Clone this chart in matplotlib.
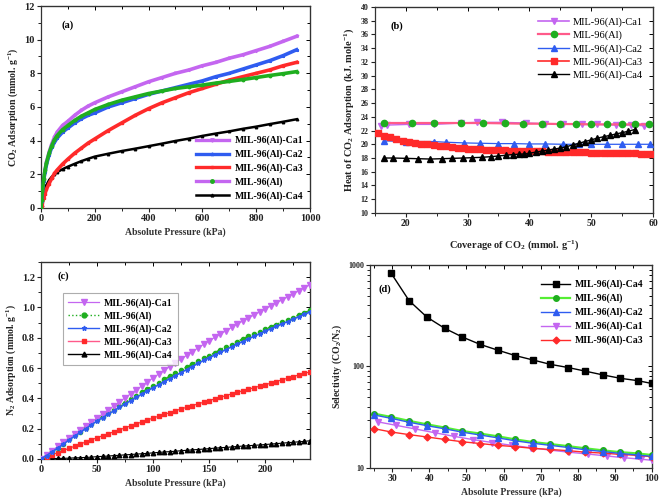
import numpy as np
import matplotlib
matplotlib.use("Agg")
import matplotlib.pyplot as plt
from matplotlib.lines import Line2D
from matplotlib.ticker import MultipleLocator, LogLocator, NullFormatter

plt.rcParams['font.family'] = ['Liberation Serif', 'DejaVu Serif']
plt.rcParams['font.weight'] = 'bold'
plt.rcParams['mathtext.default'] = 'regular'

# ---------------- Panel (a): CO2 adsorption ----------------
p_a = [0, 2, 5, 10, 15, 20, 30, 40, 50, 60, 80, 100, 125, 150, 175, 200, 250, 300,
       350, 400, 450, 500, 550, 600, 650, 700, 750, 800, 850, 900, 950]
a_ca1 = [0, 0.45, 1.0, 1.7, 2.25, 2.7, 3.3, 3.8, 4.2, 4.5, 4.9, 5.15, 5.5, 5.8, 6.05, 6.25,
         6.6, 6.9, 7.2, 7.5, 7.75, 8.0, 8.2, 8.45, 8.65, 8.9, 9.1, 9.35, 9.6, 9.9, 10.2]
a_ca2 = [0, 0.4, 0.95, 1.6, 2.15, 2.55, 3.15, 3.6, 3.9, 4.15, 4.5, 4.75, 5.05, 5.3, 5.5, 5.65,
         6.0, 6.25, 6.5, 6.75, 6.95, 7.15, 7.35, 7.55, 7.8, 8.0, 8.25, 8.5, 8.75, 9.05, 9.4]
a_ca3 = [0, 0.1, 0.3, 0.6, 0.85, 1.1, 1.45, 1.75, 2.05, 2.25, 2.6, 2.9, 3.25, 3.55, 3.85, 4.1,
         4.6, 5.05, 5.5, 5.9, 6.25, 6.55, 6.85, 7.1, 7.35, 7.6, 7.8, 8.0, 8.2, 8.45, 8.65]
a_mil = [0, 0.45, 1.0, 1.7, 2.25, 2.65, 3.25, 3.7, 4.05, 4.3, 4.65, 4.9, 5.2, 5.45, 5.65, 5.85,
         6.15, 6.4, 6.6, 6.8, 6.95, 7.1, 7.2, 7.3, 7.42, 7.52, 7.63, 7.75, 7.87, 7.98, 8.1]
a_ca4 = [0, 0.2, 0.5, 0.85, 1.1, 1.35, 1.65, 1.85, 2.0, 2.12, 2.3, 2.45, 2.62, 2.78, 2.92, 3.05,
         3.22, 3.38, 3.52, 3.67, 3.82, 3.98, 4.12, 4.28, 4.42, 4.55, 4.7, 4.83, 4.98, 5.12, 5.27]

# ---------------- Panel (b): heat of adsorption ----------------
b_ca1_x = [16, 17, 20.5, 24.5, 29, 31.5, 35.5, 39.5, 42.5, 45.5, 48.5, 51, 54, 56.5, 58.5]
b_ca1_y = [22.7, 22.8, 22.9, 22.9, 23.1, 23.2, 23.2, 23.1, 23.0, 23.0, 22.9, 22.9, 22.8, 22.8, 22.7]
b_mil_x = [16.5, 21, 24.5, 29, 32.5, 36, 39, 42, 45, 47.5, 50, 52.5, 55, 57, 59.3]
b_mil_y = [23.1, 23.1, 23.1, 23.1, 23.1, 23.05, 23.0, 23.0, 22.95, 22.95, 22.9, 22.9, 22.9, 22.9, 22.9]
b_ca2_x = [16.5, 20, 24.5, 26.5, 29.5, 32, 35, 37.5, 40, 42.5, 45.5, 48, 50, 52.5, 55, 57.5, 59.5]
b_ca2_y = [20.5, 20.4, 20.4, 20.3, 20.2, 20.15, 20.1, 20.1, 20.05, 20.05, 20.0, 20.0, 20.0, 20.0, 20.0, 20.0, 20.0]
b_ca3_x = [15.5, 16.5, 17.5, 18.5, 19.5, 20.5, 21.5, 22.5, 23.5, 24.5, 25.5, 26.5, 27.5, 28.5, 29.5,
           30, 31, 32, 33, 34, 35, 36, 37, 38, 39, 40, 41, 42, 43, 44, 45, 46, 47, 48, 49, 50,
           51, 52, 53, 54, 55, 56, 57, 58, 59, 60]
b_ca3_y = [21.6, 21.25, 21.0, 20.75, 20.55, 20.4, 20.25, 20.1, 20.0, 19.9, 19.8, 19.7, 19.6, 19.5, 19.4,
           19.35, 19.3, 19.25, 19.2, 19.15, 19.12, 19.1, 19.07, 19.05, 19.02, 19.0, 18.98, 18.96, 18.94,
           18.92, 18.9, 18.88, 18.86, 18.84, 18.82, 18.8, 18.78, 18.76, 18.74, 18.72, 18.7, 18.68,
           18.66, 18.64, 18.62, 18.6]
b_ca4_x = [16.5, 18, 20, 22, 24, 25.8, 27.5, 29.3, 30.8, 32.3, 33.8, 35, 36.2, 37.3, 38.3, 39.2,
           40, 41, 42, 43, 44, 45, 46, 47, 48, 49, 50, 51, 52, 53, 54, 55, 56, 57]
b_ca4_y = [18.0, 18.0, 17.95, 17.9, 17.85, 17.9, 17.95, 18.0, 18.05, 18.1, 18.2, 18.3, 18.4, 18.5,
           18.55, 18.6, 18.7, 18.85, 19.0, 19.15, 19.3, 19.45, 19.65, 19.9, 20.15, 20.4, 20.65,
           20.9, 21.1, 21.3, 21.5, 21.7, 21.9, 22.15]

# ---------------- Panel (c): N2 adsorption ----------------
p_c = list(range(0, 241, 5))
c_ca1 = [0, 0.028, 0.055, 0.083, 0.11, 0.138, 0.165, 0.192, 0.218, 0.244, 0.27,
         0.297, 0.324, 0.35, 0.377, 0.403, 0.43, 0.456, 0.482, 0.508, 0.535,
         0.56, 0.585, 0.61, 0.635, 0.66, 0.684, 0.708, 0.732, 0.756, 0.78,
         0.802, 0.824, 0.846, 0.868, 0.89, 0.91, 0.93, 0.95, 0.97, 0.99,
         1.01, 1.03, 1.05, 1.07, 1.09, 1.11, 1.13, 1.15]
c_mil = [0, 0.025, 0.05, 0.075, 0.1, 0.13, 0.155, 0.18, 0.205, 0.23, 0.255,
         0.28, 0.30, 0.325, 0.35, 0.37, 0.395, 0.415, 0.44, 0.46, 0.48,
         0.50, 0.525, 0.545, 0.565, 0.585, 0.605, 0.625, 0.645, 0.665, 0.68,
         0.70, 0.72, 0.74, 0.755, 0.775, 0.79, 0.81, 0.825, 0.84, 0.855,
         0.871, 0.886, 0.902, 0.918, 0.933, 0.949, 0.964, 0.98]
c_ca2 = [0, 0.022, 0.047, 0.072, 0.097, 0.125, 0.15, 0.175, 0.2, 0.225, 0.25,
         0.272, 0.295, 0.318, 0.34, 0.362, 0.385, 0.406, 0.428, 0.45, 0.47,
         0.49, 0.51, 0.53, 0.55, 0.57, 0.59, 0.61, 0.63, 0.65, 0.668,
         0.686, 0.704, 0.722, 0.74, 0.758, 0.775, 0.792, 0.809, 0.826, 0.843,
         0.859, 0.875, 0.891, 0.907, 0.923, 0.939, 0.955, 0.97]
c_ca3 = [0, 0.014, 0.028, 0.042, 0.056, 0.07, 0.084, 0.098, 0.112, 0.126, 0.14,
         0.153, 0.166, 0.179, 0.192, 0.205, 0.218, 0.231, 0.244, 0.257, 0.27,
         0.282, 0.294, 0.306, 0.318, 0.33, 0.341, 0.352, 0.363, 0.374, 0.385,
         0.396, 0.407, 0.418, 0.429, 0.44, 0.45, 0.46, 0.47, 0.48, 0.49,
         0.5, 0.511, 0.522, 0.533, 0.544, 0.554, 0.564, 0.575]
c_ca4 = [0, 0.001, 0.002, 0.003, 0.004, 0.005, 0.007, 0.008, 0.010, 0.012, 0.015,
         0.017, 0.019, 0.022, 0.024, 0.027, 0.029, 0.032, 0.034, 0.037, 0.04,
         0.043, 0.046, 0.048, 0.051, 0.054, 0.057, 0.06, 0.062, 0.065, 0.068,
         0.071, 0.074, 0.076, 0.079, 0.082, 0.085, 0.087, 0.09, 0.092, 0.095,
         0.098, 0.101, 0.104, 0.107, 0.11, 0.113, 0.116, 0.12]

# ---------------- Panel (d): selectivity ----------------
d_x = [25.0, 29.7, 34.5, 39.3, 44.1, 48.9, 53.7, 58.4, 63.2, 67.9, 72.6, 77.4, 82.1, 86.8, 91.5, 96.2, 100]
d_ca4_x = d_x[1:]
d_ca4 = [826, 446, 307, 238, 195, 165, 145, 128, 116, 105, 97.7, 89.9, 82.6, 76.5, 72.5, 68]
d_mil = [34.3, 31.8, 29.1, 26.9, 25.0, 23.1, 21.8, 20.5, 19.1, 18.0, 17.2, 16.4, 15.6, 14.9, 14.3, 13.9, 13.4]
d_ca2 = [33.3, 30.8, 28.2, 26.1, 24.3, 22.5, 21.1, 19.8, 18.5, 17.5, 16.7, 15.9, 15.1, 14.5, 13.9, 13.4, 13.0]
d_ca1_x = [26.0, 31.0, 36.2, 41.5, 46.6, 51.8, 57.0, 62.2, 67.4, 72.5, 77.6, 82.8, 88.0, 92.6, 97.0, 100]
d_ca1 = [28.5, 26.3, 24.2, 22.2, 20.5, 19.0, 17.8, 16.7, 15.8, 15.0, 14.3, 13.7, 13.1, 12.6, 12.2, 11.9]
d_ca3 = [24.4, 22.6, 21.3, 20.2, 19.1, 18.1, 17.4, 16.7, 16.2, 15.6, 15.2, 14.8, 14.3, 14.0, 13.6, 13.3, 12.9]

labels = ['MIL-96(Al)-Ca1', 'MIL-96(Al)-Ca2', 'MIL-96(Al)-Ca3', 'MIL-96(Al)', 'MIL-96(Al)-Ca4']
VIOLET = '#c466f0'
BLUE = '#2f5cf0'
RED = '#ff2a2a'
GREEN = '#1fae1f'
PINK = '#ff5a8a'
TXT = '#222222'

fig = plt.figure(figsize=(6.61, 5.01), dpi=100)
ax_a = fig.add_axes([0.062, 0.585, 0.407, 0.403])
ax_b = fig.add_axes([0.567, 0.575, 0.421, 0.411])
ax_c = fig.add_axes([0.062, 0.084, 0.407, 0.393])
ax_d = fig.add_axes([0.560, 0.066, 0.426, 0.405])


def style(ax, xmaj, xmin, ymaj, ymin, fs=7.5, logy=False):
    ax.xaxis.set_major_locator(MultipleLocator(xmaj))
    ax.xaxis.set_minor_locator(MultipleLocator(xmin))
    if not logy:
        ax.yaxis.set_major_locator(MultipleLocator(ymaj))
        if ymin:
            ax.yaxis.set_minor_locator(MultipleLocator(ymin))
    ax.tick_params(which='major', direction='out', length=3, width=0.8, labelsize=fs, pad=1.5,
                   colors=TXT)
    ax.tick_params(which='minor', direction='out', length=2, width=0.6)
    for s in ax.spines.values():
        s.set_linewidth(0.9)
        s.set_color('#333333')
    sx = ax.secondary_xaxis('top')
    sx.xaxis.set_major_locator(MultipleLocator(xmaj))
    sx.xaxis.set_minor_locator(MultipleLocator(xmin))
    sx.tick_params(which='both', direction='in', labeltop=False, width=0.7)
    sx.tick_params(which='major', length=3)
    sx.tick_params(which='minor', length=2)
    sy = ax.secondary_yaxis('right')
    if not logy:
        sy.yaxis.set_major_locator(MultipleLocator(ymaj))
        if ymin:
            sy.yaxis.set_minor_locator(MultipleLocator(ymin))
    sy.tick_params(which='both', direction='in', labelright=False, width=0.7)
    sy.tick_params(which='major', length=3)
    sy.tick_params(which='minor', length=2)
    sy.yaxis.set_minor_formatter(NullFormatter())


# ---------- (a) ----------
ax = ax_a
ax.plot(p_a, a_ca4, color='black', lw=1.8, marker='^', ms=1.8, zorder=3)
ax.plot(p_a, a_ca3, color=RED, lw=2.6, marker='s', ms=1.8, zorder=3)
ax.plot(p_a, a_ca2, color=BLUE, lw=2.6, marker='*', ms=2.0, zorder=4)
ax.plot(p_a, a_mil, color=GREEN, lw=2.6, marker='o', ms=1.8, zorder=5)
ax.plot(p_a, a_ca1, color=VIOLET, lw=2.6, marker='v', ms=1.8, zorder=2)
ax.set_xlim(0, 1000)
ax.set_ylim(0, 12)
style(ax, 200, 100, 2, 1, fs=7.5)
ax.set_xlabel('Absolute Pressure (kPa)', fontsize=7, fontweight='bold', color='#333333', labelpad=3)
ax.set_ylabel('CO$_2$ Adsorption (mmol. g$^{-1}$)', fontsize=7, fontweight='bold', color=TXT, labelpad=3)
ax.text(0.075, 0.89, '(a)', transform=ax.transAxes, fontsize=7.5, fontweight='bold')
h_a = [Line2D([], [], color=VIOLET, lw=2.4, marker='v', ms=2.5, mfc=VIOLET),
       Line2D([], [], color=BLUE, lw=2.4, marker='*', ms=2.5, mfc=BLUE),
       Line2D([], [], color=RED, lw=2.4, marker='s', ms=2.0, mfc=RED),
       Line2D([], [], color=VIOLET, lw=2.4, marker='o', ms=2.5, mfc=GREEN, mec=GREEN),
       Line2D([], [], color='black', lw=1.8, marker='^', ms=2.0)]
ax.legend(h_a, labels, loc='lower right', frameon=False, fontsize=7, handlelength=3.4,
          labelspacing=0.45, borderaxespad=0.3, handletextpad=0.6,
          bbox_to_anchor=(1.0, 0.0), prop={'weight': 'bold', 'size': 7})

# ---------- (b) ----------
ax = ax_b
ax.plot(b_ca1_x, b_ca1_y, color=VIOLET, lw=1.0, marker='v', ms=4.5, zorder=3)
ax.plot(b_mil_x, b_mil_y, color=PINK, lw=1.6, marker='o', ms=4.5, mfc=GREEN, mec=GREEN, zorder=4)
ax.plot(b_ca2_x, b_ca2_y, color=BLUE, lw=0.9, marker='^', ms=4.5, zorder=3)
ax.plot(b_ca3_x, b_ca3_y, color=RED, lw=1.2, marker='s', ms=4.0, zorder=3)
ax.plot(b_ca4_x, b_ca4_y, color='black', lw=1.0, marker='^', ms=4.5, zorder=5)
ax.set_xlim(15, 60)
ax.set_ylim(10, 40)
style(ax, 10, 5, 2, None, fs=5.8)
ax.tick_params(axis='x', labelsize=7)
ax.set_xlabel('Coverage of CO$_2$ (mmol. g$^{-1}$)', fontsize=7.5, fontweight='bold', color=TXT, labelpad=7)
ax.set_ylabel('Heat of CO$_2$ Adsorption (kJ. mole$^{-1}$)', fontsize=7.5, fontweight='bold', color=TXT, labelpad=3)
ax.text(0.055, 0.895, '(b)', transform=ax.transAxes, fontsize=7.5, fontweight='bold')
h_b = [Line2D([], [], color=VIOLET, lw=1.2, marker='v', ms=4.5),
       Line2D([], [], color=PINK, lw=1.6, marker='o', ms=4.5, mfc=GREEN, mec=GREEN),
       Line2D([], [], color=BLUE, lw=1.0, marker='^', ms=4.5),
       Line2D([], [], color=RED, lw=1.2, marker='s', ms=4.0),
       Line2D([], [], color='black', lw=1.0, marker='^', ms=4.5)]
lb = ['MIL-96(Al)-Ca1', 'MIL-96(Al)', 'MIL-96(Al)-Ca2', 'MIL-96(Al)-Ca3', 'MIL-96(Al)-Ca4']
ax.legend(h_b, lb, loc='upper right', frameon=False, handlelength=3.0,
          labelspacing=0.35, borderaxespad=0.6, handletextpad=0.3,
          prop={'weight': 'normal', 'size': 7.5})

# ---------- (c) ----------
ax = ax_c
ax.plot(p_c, c_ca4, color='black', lw=0.8, marker='^', ms=3.2, zorder=3)
ax.plot(p_c, c_ca3, color=RED, lw=0.8, marker='s', ms=3.2, zorder=3)
ax.plot(p_c, c_mil, color=GREEN, lw=1.4, ls=':', marker='o', ms=3.0, zorder=3)
ax.plot(p_c, c_ca2, color=BLUE, lw=1.2, marker='*', ms=3.2, zorder=4)
ax.plot(p_c, c_ca1, color=VIOLET, lw=0.8, marker='v', ms=3.8, zorder=3)
ax.set_xlim(0, 240)
ax.set_ylim(0, 1.3)
style(ax, 50, 25, 0.2, 0.1, fs=7.5)
ax.set_xlabel('Absolute Pressure (kPa)', fontsize=7, fontweight='bold', color='#333333', labelpad=3)
ax.set_ylabel('N$_2$ Adsorption (mmol. g$^{-1}$)', fontsize=7, fontweight='bold', color=TXT, labelpad=3)
ax.text(0.06, 0.915, '(c)', transform=ax.transAxes, fontsize=7.5, fontweight='bold')
h_c = [Line2D([], [], color=VIOLET, lw=0.9, marker='v', ms=4),
       Line2D([], [], color=GREEN, lw=1.0, ls=':', marker='o', ms=3.5),
       Line2D([], [], color=BLUE, lw=1.0, marker='*', ms=3.5),
       Line2D([], [], color=PINK, lw=1.0, marker='s', ms=3.5, mfc=RED, mec=RED),
       Line2D([], [], color='black', lw=1.0, marker='^', ms=3.5)]
lc = ['MIL-96(Al)-Ca1', 'MIL-96(Al)', 'MIL-96(Al)-Ca2', 'MIL-96(Al)-Ca3', 'MIL-96(Al)-Ca4']
leg = ax.legend(h_c, lc, loc='upper left', bbox_to_anchor=(0.065, 0.865), frameon=True,
                fancybox=False, handlelength=3.2, labelspacing=0.35, borderpad=0.5,
                handletextpad=0.5, prop={'weight': 'bold', 'size': 7})
leg.get_frame().set_edgecolor('#999999')
leg.get_frame().set_linewidth(0.8)

# ---------- (d) ----------
ax = ax_d
ax.set_yscale('log')
ax.plot(d_ca4_x, d_ca4, color='black', lw=1.0, marker='s', ms=4.0, zorder=5)
ax.plot(d_x, d_mil, color='#55ee33', lw=1.6, marker='o', ms=4.0, mfc=GREEN, mec=GREEN, zorder=4)
ax.plot(d_x, d_ca2, color=BLUE, lw=1.0, marker='^', ms=4.0, zorder=4)
ax.plot(d_ca1_x, d_ca1, color=VIOLET, lw=1.0, marker='v', ms=4.0, zorder=3)
ax.plot(d_x, d_ca3, color=RED, lw=1.0, marker='D', ms=3.5, zorder=3)
ax.set_xlim(24, 100)
ax.set_ylim(10, 1000)
ax.yaxis.set_major_locator(LogLocator(base=10, numticks=5))
ax.yaxis.set_minor_locator(LogLocator(base=10, subs=np.arange(2, 10), numticks=10))
ax.yaxis.set_minor_formatter(NullFormatter())
ax.yaxis.set_major_formatter(matplotlib.ticker.FuncFormatter(lambda v, p: '%d' % v))
style(ax, 10, 5, None, None, fs=7, logy=True)
ax.tick_params(axis='y', labelsize=5.8)
ax.set_xlabel('Absolute Pressure (kPa)', fontsize=7, fontweight='bold', color='#333333', labelpad=3)
ax.set_ylabel('Selectivity (CO$_2$/N$_2$)', fontsize=7, fontweight='bold', color=TXT, labelpad=3)
ax.text(0.03, 0.87, '(d)', transform=ax.transAxes, fontsize=7.5, fontweight='bold')
h_d = [Line2D([], [], color='black', lw=1.0, marker='s', ms=4),
       Line2D([], [], color='#55ee33', lw=1.6, marker='o', ms=4, mfc=GREEN, mec=GREEN),
       Line2D([], [], color=BLUE, lw=1.0, marker='^', ms=4),
       Line2D([], [], color=VIOLET, lw=1.0, marker='v', ms=4),
       Line2D([], [], color=RED, lw=1.0, marker='D', ms=3.5)]
ld = ['MIL-96(Al)-Ca4', 'MIL-96(Al)', 'MIL-96(Al)-Ca2', 'MIL-96(Al)-Ca1', 'MIL-96(Al)-Ca3']
ax.legend(h_d, ld, loc='upper right', bbox_to_anchor=(1.0, 0.97), frameon=False,
          handlelength=3.0, labelspacing=0.45, handletextpad=0.4,
          prop={'weight': 'bold', 'size': 7})

fig.savefig('out.png', dpi=100)
